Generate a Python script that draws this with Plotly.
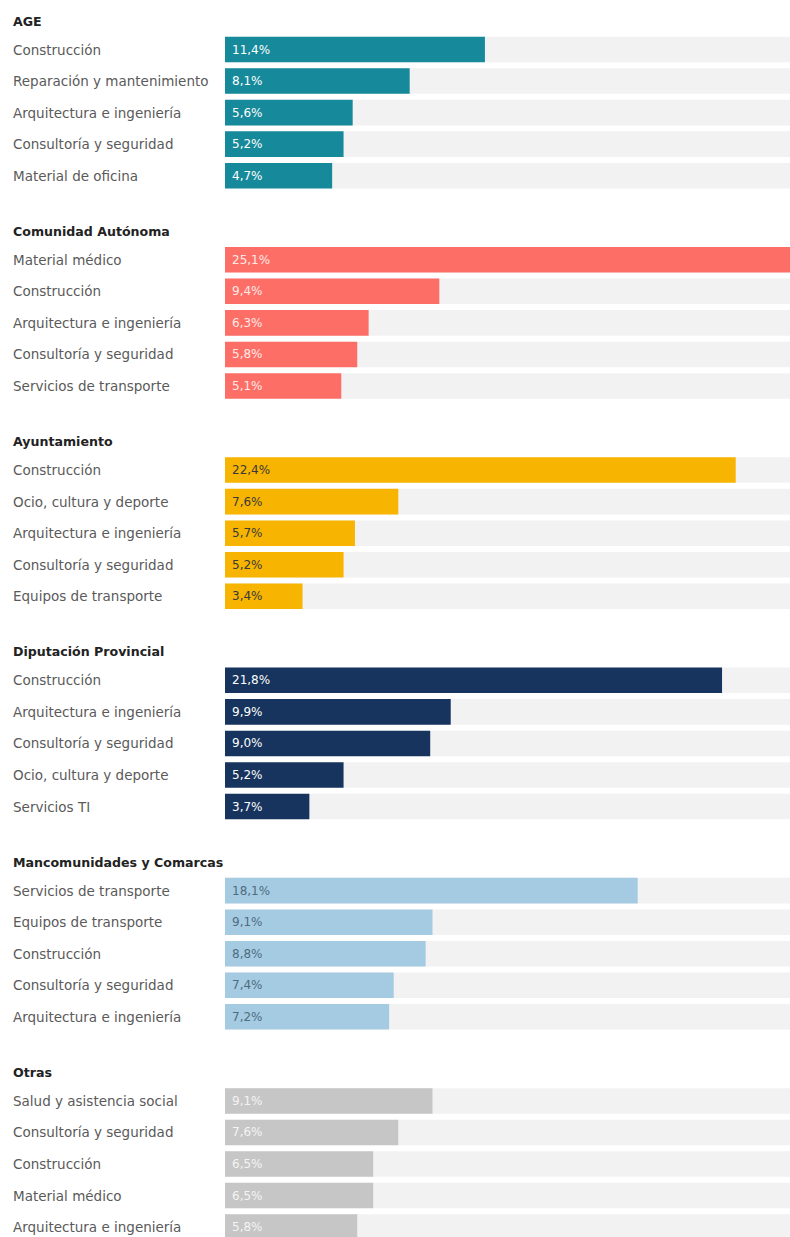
import plotly.graph_objects as go

# Contract share by sector for each type of public administration (%)
groups = ["AGE", "Comunidad Autónoma", "Ayuntamiento", "Diputación Provincial",
          "Mancomunidades y Comarcas", "Otras"]

age_labels = ["Construcción", "Reparación y mantenimiento", "Arquitectura e ingeniería",
              "Consultoría y seguridad", "Material de oficina"]
age_values = [11.4, 8.1, 5.6, 5.2, 4.7]

ccaa_labels = ["Material médico", "Construcción", "Arquitectura e ingeniería",
               "Consultoría y seguridad", "Servicios de transporte"]
ccaa_values = [25.1, 9.4, 6.3, 5.8, 5.1]

ayto_labels = ["Construcción", "Ocio, cultura y deporte", "Arquitectura e ingeniería",
               "Consultoría y seguridad", "Equipos de transporte"]
ayto_values = [22.4, 7.6, 5.7, 5.2, 3.4]

dip_labels = ["Construcción", "Arquitectura e ingeniería", "Consultoría y seguridad",
              "Ocio, cultura y deporte", "Servicios TI"]
dip_values = [21.8, 9.9, 9.0, 5.2, 3.7]

manc_labels = ["Servicios de transporte", "Equipos de transporte", "Construcción",
               "Consultoría y seguridad", "Arquitectura e ingeniería"]
manc_values = [18.1, 9.1, 8.8, 7.4, 7.2]

otras_labels = ["Salud y asistencia social", "Consultoría y seguridad", "Construcción",
                "Material médico", "Arquitectura e ingeniería"]
otras_values = [9.1, 7.6, 6.5, 6.5, 5.8]

all_labels = [age_labels, ccaa_labels, ayto_labels, dip_labels, manc_labels, otras_labels]
all_values = [age_values, ccaa_values, ayto_values, dip_values, manc_values, otras_values]

bar_colors = ["#16899a", "#fd6f66", "#f7b400", "#16345d", "#a5cbe3", "#c6c6c6"]
value_colors = ["#ffffff", "#ffe9e6", "#3a3a3a", "#ffffff", "#4f6b80", "#f4f4f4"]

FONT = "DejaVu Sans"
W, H = 790, 1237
LEFT = 225
X_MAX = 24.78          # axis extent; the largest bar runs past the right edge
GROUP_STRIDE = 6.665   # rows per group block, including heading and gap
TITLE_OFFSET = 0.9
BAR_W = 0.81
LABEL_X = -(LEFT - 11) / (W - LEFT)

fig = go.Figure()

ys, xs, cols = [], [], []
annotations = []
for g, (name, labels, values) in enumerate(zip(groups, all_labels, all_values)):
    base = g * GROUP_STRIDE
    annotations.append(dict(
        xref="paper", yref="y", x=LABEL_X, y=base - TITLE_OFFSET,
        text=f"<b>{name}</b>", showarrow=False, xanchor="left", yanchor="middle",
        font=dict(family=FONT, size=12.6, color="#222222")))
    for r, (lab, val) in enumerate(zip(labels, values)):
        y = base + r
        ys.append(y)
        xs.append(val)
        cols.append(bar_colors[g])
        annotations.append(dict(
            xref="paper", yref="y", x=LABEL_X, y=y,
            text=lab, showarrow=False, xanchor="left", yanchor="middle",
            font=dict(family=FONT, size=13.5, color="#5a5a5a")))
        annotations.append(dict(
            xref="x", yref="y", x=0, y=y, xshift=5,
            text=f"{val:.1f}%".replace(".", ","), showarrow=False,
            xanchor="left", yanchor="middle",
            font=dict(family=FONT, size=12, color=value_colors[g])))

# light background tracks spanning the full width
fig.add_trace(go.Bar(
    x=[X_MAX * 1.2] * len(ys), y=ys, orientation="h", width=BAR_W,
    marker=dict(color="#f2f2f2", line=dict(width=0)), hoverinfo="skip"))

fig.add_trace(go.Bar(
    x=xs, y=ys, orientation="h", width=BAR_W,
    marker=dict(color=cols, line=dict(width=0))))

top_val = -49.5 / 31.55
bottom_val = (H - 49.5) / 31.55

fig.update_layout(
    width=W, height=H,
    margin=dict(l=LEFT, r=0, t=0, b=0),
    paper_bgcolor="white", plot_bgcolor="white",
    barmode="overlay", showlegend=False,
    xaxis=dict(range=[0, X_MAX], visible=False, fixedrange=True),
    yaxis=dict(range=[bottom_val, top_val], visible=False, fixedrange=True),
    annotations=annotations,
    font=dict(family=FONT),
)

fig.write_html("out.html")
